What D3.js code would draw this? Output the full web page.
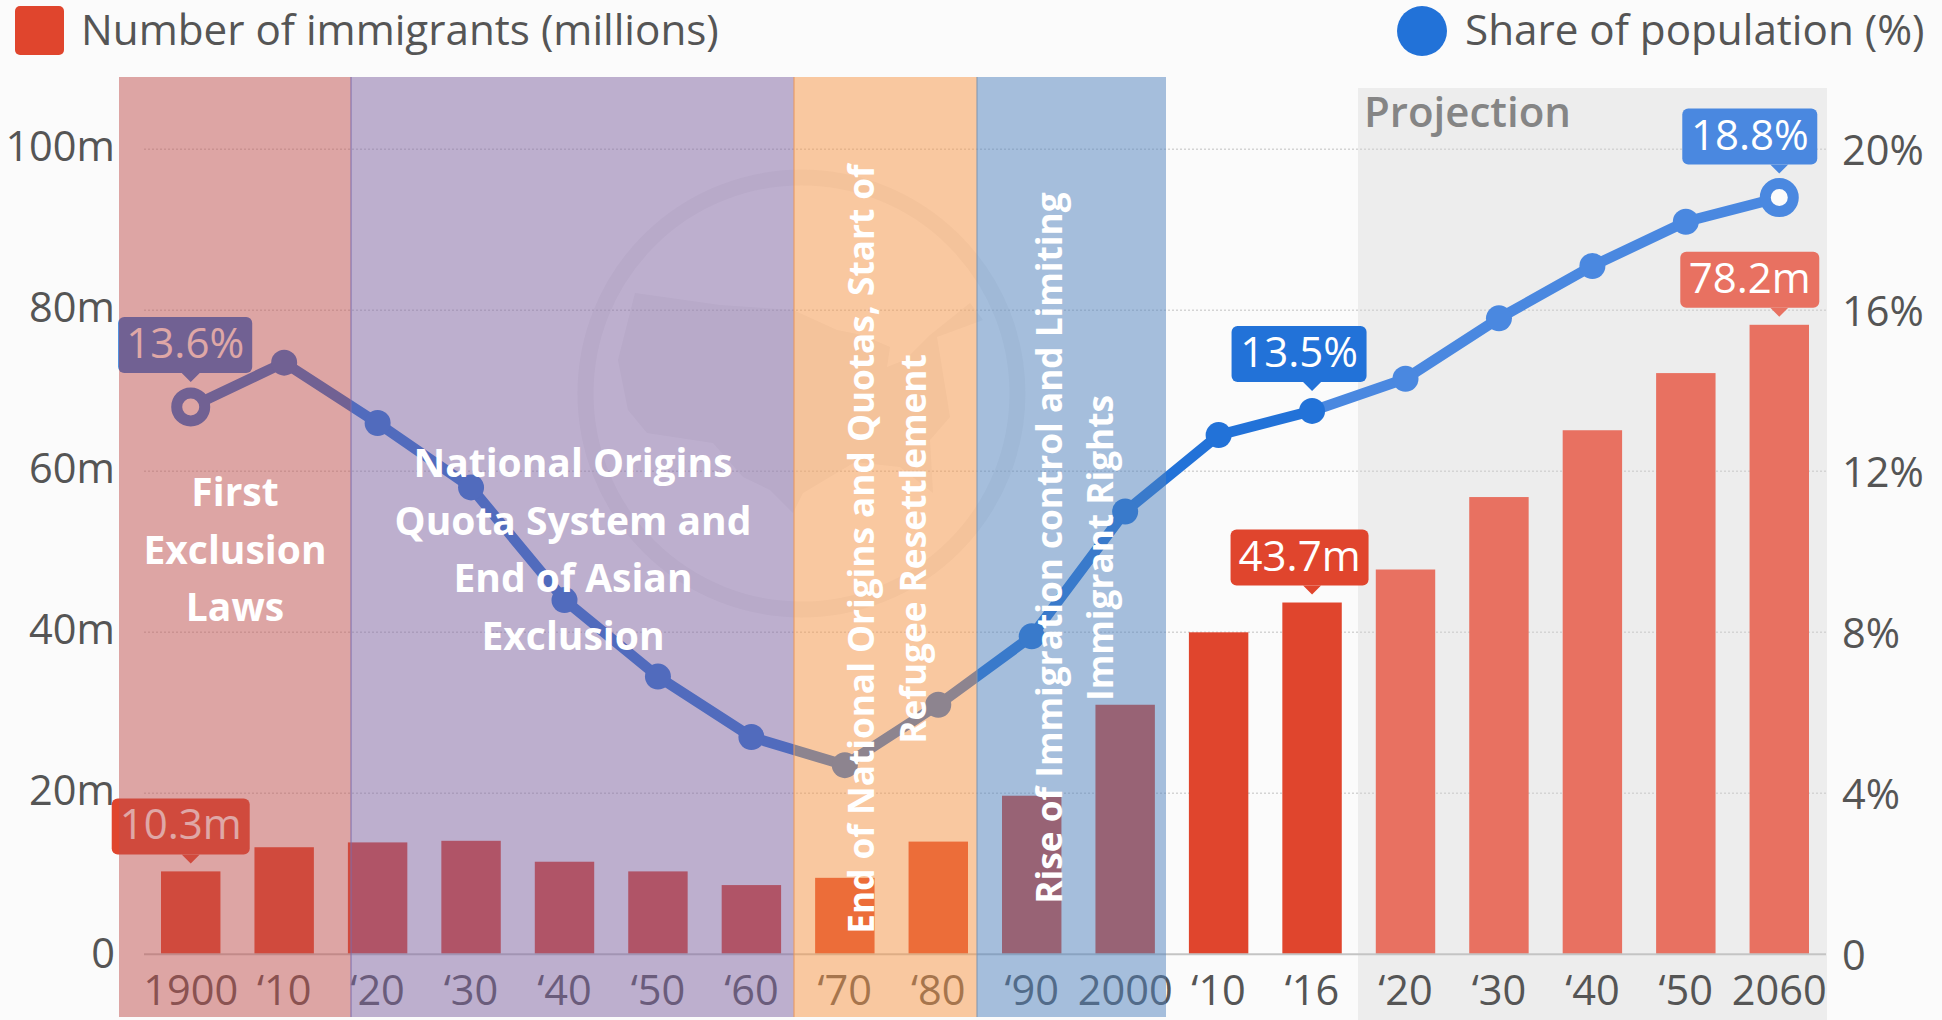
<!DOCTYPE html>
<html>
<head>
<meta charset="utf-8">
<script src="https://cdn.jsdelivr.net/npm/d3@7"></script>
<style>
  html, body { margin: 0; padding: 0; background: #fbfbfb; overflow: hidden; }
  text { font-family: "Open Sans", sans-serif; }
  .axis text { font-size: 41.5px; fill: #555; }
  .axis path, .axis line { display: none; }
</style>
</head>
<body>
<div id="chart"></div>
<script>
// Chart data
const years = ['1900', '‘10', '‘20', '‘30', '‘40', '‘50', '‘60', '‘70', '‘80', '‘90', '2000', '‘10 ', '‘16', '‘20 ', '‘30 ', '‘40 ', '‘50 ', '2060'];
const immigrants = [10.3, 13.3, 13.9, 14.1, 11.5, 10.3, 8.6, 9.5, 14.0, 19.7, 31.0, 40.0, 43.7, 47.8, 56.8, 65.1, 72.2, 78.2];
const sharePct = [13.6, 14.7, 13.2, 11.6, 8.8, 6.9, 5.4, 4.7, 6.2, 7.9, 11.0, 12.9, 13.5, 14.3, 15.8, 17.1, 18.2, 18.8];
const leftTicks = [0, 20, 40, 60, 80, 100];
const rightTicks = [0, 4, 8, 12, 16, 20];
// first projected category
const projectionStart = 13;

const eras = ['1900', '‘20', '‘70', '‘90'];

const width = 1942;
const height = 1020;
const margin = { top: 149.3, right: 116, bottom: 65.7, left: 144 };

const colors = {
    bar: '#e0452d',
    barProjected: '#e87161',
    line: '#2272d8',
    lineProjected: '#4a88e0',
    panels: ['#c0504d', '#8064a2', '#f79646', '#4f81bd'],
    panelEdge: ['#c0504d', '#7f6aa8', '#e8955a', '#7f93ad']
};

const svg = d3
    .select('#chart')
    .append('svg')
    .attr('width', width)
    .attr('height', height)
    .attr('viewBox', `0 0 ${width} ${height}`);

// Scales
const x = d3
    .scaleBand()
    .domain(years)
    .range([margin.left, width - margin.right])
    .paddingInner(0.364)
    .paddingOuter(0.182);
const yLeft = d3.scaleLinear().domain([0, 100]).range([height - margin.bottom, margin.top]);
const yRight = d3.scaleLinear().domain([0, 20]).range([height - margin.bottom, margin.top]);
const cx = (i) => x(years[i]) + x.bandwidth() / 2;

// Projection background
svg.append('rect')
    .attr('x', 1358)
    .attr('y', 88)
    .attr('width', 1827 - 1358)
    .attr('height', height - 88)
    .attr('fill', '#ededed');

svg.append('text')
    .attr('x', 1364)
    .attr('y', 127)
    .attr('fill', '#858585')
    .attr('font-size', 42)
    .attr('font-weight', 600)
    .text('Projection');

// Watermark behind the chart
const mark = svg.append('g').attr('opacity', 0.05).attr('fill', '#333');
mark.append('circle')
    .attr('cx', 801.5)
    .attr('cy', 393.5)
    .attr('r', 216)
    .attr('fill', 'none')
    .attr('stroke', '#333')
    .attr('stroke-width', 16);
mark.append('path')
    .attr('d', 'M635,293 L720,305 L793,310 L837,330 L862,335 L890,347 L887,367 L905,360 L930,335 L970,303 L983,320 L937,337 L950,417 L930,440 L933,493 L900,467 L855,462 L803,493 L793,513 L770,490 L743,477 L713,443 L647,433 L628,410 L618,360 Z');

// Grid lines
svg.append('g')
    .selectAll('line')
    .data(leftTicks.slice(1))
    .join('line')
    .attr('x1', margin.left)
    .attr('x2', width - margin.right)
    .attr('y1', (d) => yLeft(d))
    .attr('y2', (d) => yLeft(d))
    .attr('stroke', '#d4d4d4')
    .attr('stroke-width', 1.5)
    .attr('stroke-dasharray', '2 2');

// Bars
svg.append('g')
    .selectAll('rect')
    .data(immigrants)
    .join('rect')
    .attr('x', (d, i) => x(years[i]))
    .attr('y', (d) => yLeft(d))
    .attr('width', x.bandwidth())
    .attr('height', (d) => yLeft(0) - yLeft(d))
    .attr('fill', (d, i) => (i >= projectionStart ? colors.barProjected : colors.bar));

// Axis base line
svg.append('line')
    .attr('x1', margin.left)
    .attr('x2', width - margin.right)
    .attr('y1', yLeft(0))
    .attr('y2', yLeft(0))
    .attr('stroke', '#c4c4c4')
    .attr('stroke-width', 2);

// Left axis
const leftAxis = svg.append('g')
    .attr('class', 'axis')
    .attr('transform', `translate(115, 0)`)
    .call(d3.axisLeft(yLeft).tickValues(leftTicks).tickSize(0).tickPadding(0).tickFormat((d) => (d === 0 ? '0' : d + 'm')));
leftAxis.selectAll('text').attr('dy', (d) => (d === 0 ? 13 : 11));

// Right axis
const rightAxis = svg.append('g')
    .attr('class', 'axis')
    .attr('transform', `translate(1842, 0)`)
    .call(d3.axisRight(yRight).tickValues(rightTicks).tickSize(0).tickPadding(0).tickFormat((d) => (d === 0 ? '0' : d + '%')));
rightAxis.selectAll('text').attr('dy', 15.5);

// Bottom axis
const bottomAxis = svg.append('g')
    .attr('class', 'axis')
    .attr('transform', `translate(0, ${yLeft(0)})`)
    .call(d3.axisBottom(x).tickSize(0).tickPadding(0).tickFormat((d) => d.trim()));
bottomAxis.selectAll('text').attr('y', 51).attr('dy', 0);

// Share line, historic and projected parts
const line = d3
    .line()
    .x((d) => cx(d))
    .y((d) => yRight(sharePct[d]));
const indexes = d3.range(years.length);

svg.append('path')
    .datum(indexes.slice(projectionStart - 1))
    .attr('d', line)
    .attr('fill', 'none')
    .attr('stroke', colors.lineProjected)
    .attr('stroke-width', 10.5);
svg.append('path')
    .datum(indexes.slice(0, projectionStart))
    .attr('d', line)
    .attr('fill', 'none')
    .attr('stroke', colors.line)
    .attr('stroke-width', 10.5);

const lastIndex = years.length - 1;
svg.append('g')
    .selectAll('circle')
    .data(indexes)
    .join('circle')
    .attr('cx', (d) => cx(d))
    .attr('cy', (d) => yRight(sharePct[d]))
    .attr('r', (d) => (d === 0 || d === lastIndex ? 14 : 13))
    .attr('fill', (d) => {
        if (d === 0 || d === lastIndex) return '#fbfbfb';
        return d >= projectionStart ? colors.lineProjected : colors.line;
    })
    .attr('stroke', (d) => {
        if (d !== 0 && d !== lastIndex) return 'none';
        return d >= projectionStart ? colors.lineProjected : colors.line;
    })
    .attr('stroke-width', 11);

// Callouts on first, 2016 and last values
const barCallouts = [
    { index: 0, text: '10.3m', width: 138, dx: -10, gap: 8, fill: colors.bar },
    { index: 12, text: '43.7m', width: 138, dx: -12.5, gap: 8, fill: colors.bar },
    { index: 17, text: '78.2m', width: 139, dx: -29.5, gap: 8, fill: colors.barProjected }
];
const lineCallouts = [
    { index: 0, text: '13.6%', width: 134, dx: -5.5, gap: 25, fill: colors.line },
    { index: 12, text: '13.5%', width: 135, dx: -13, gap: 20, fill: colors.line },
    { index: 17, text: '18.8%', width: 135, dx: -29.5, gap: 24, fill: colors.lineProjected }
];

function drawCallout(d, tipY) {
    const tipX = cx(d.index);
    const boxLeft = tipX + d.dx - d.width / 2;
    const boxBottom = tipY - 9;
    const g = svg.append('g');
    g.append('rect')
        .attr('x', boxLeft)
        .attr('y', boxBottom - 56)
        .attr('width', d.width)
        .attr('height', 56)
        .attr('rx', 6)
        .attr('fill', d.fill);
    g.append('path')
        .attr('d', `M${tipX - 9},${boxBottom} L${tipX},${tipY} L${tipX + 9},${boxBottom} Z`)
        .attr('fill', d.fill);
    g.append('text')
        .attr('x', boxLeft + d.width / 2)
        .attr('y', boxBottom - 15)
        .attr('text-anchor', 'middle')
        .attr('font-size', 42)
        .attr('fill', '#fff')
        .text(d.text);
}
barCallouts.forEach((d) => drawCallout(d, yLeft(immigrants[d.index]) - d.gap));
lineCallouts.forEach((d) => drawCallout(d, yRight(sharePct[d.index]) - d.gap));

// Legend
svg.append('rect')
    .attr('x', 15)
    .attr('y', 6)
    .attr('width', 49)
    .attr('height', 49)
    .attr('rx', 5)
    .attr('fill', colors.bar);
svg.append('text')
    .attr('x', 81)
    .attr('y', 45)
    .attr('font-size', 42.2)
    .attr('fill', '#555')
    .text('Number of immigrants (millions)');
svg.append('circle')
    .attr('cx', 1422)
    .attr('cy', 31)
    .attr('r', 25)
    .attr('fill', colors.line);
svg.append('text')
    .attr('x', 1465)
    .attr('y', 45)
    .attr('font-size', 42.2)
    .attr('fill', '#555')
    .text('Share of population (%)');

// Era panels lie over the whole chart
const panelLeft = [119, 351, 794, 977];
const panelRight = [351, 794, 977, 1166];
svg.append('g')
    .selectAll('rect')
    .data(eras)
    .join('rect')
    .attr('x', (d, i) => panelLeft[i])
    .attr('y', 77)
    .attr('width', (d, i) => panelRight[i] - panelLeft[i])
    .attr('height', 940)
    .attr('fill', (d, i) => colors.panels[i])
    .attr('fill-opacity', 0.5);
svg.append('g')
    .selectAll('line')
    .data(panelLeft.slice(1))
    .join('line')
    .attr('x1', (d) => d)
    .attr('x2', (d) => d)
    .attr('y1', 77)
    .attr('y2', 1017)
    .attr('stroke', (d, i) => colors.panelEdge[i + 1])
    .attr('stroke-width', 1);

// Horizontal era text
function wrapped(lines, xPos, firstY, step) {
    svg.append('g')
        .selectAll('text')
        .data(lines)
        .join('text')
        .attr('x', xPos)
        .attr('y', (d, i) => firstY + i * step)
        .attr('text-anchor', 'middle')
        .attr('font-weight', 700)
        .attr('font-size', 39)
        .attr('fill', '#fff')
        .text((d) => d);
}
wrapped(['First', 'Exclusion', 'Laws'], 235, 506, 57.6);
wrapped(['National Origins', 'Quota System and', 'End of Asian', 'Exclusion'], 573, 477, 57.6);

// Rotated era text
function rotated(lines, positions, yPos) {
    svg.append('g')
        .selectAll('text')
        .data(lines)
        .join('text')
        .attr('transform', (d, i) => `translate(${positions[i]}, ${yPos}) rotate(-90)`)
        .attr('text-anchor', 'middle')
        .attr('font-weight', 700)
        .attr('font-size', 35.2)
        .attr('fill', '#fff')
        .text((d) => d);
}
rotated(['End of National Origins and Quotas, Start of', 'Refugee Resettlement'], [874, 926], 549);
rotated(['Rise of Immigration control and Limiting', 'Immigrant Rights'], [1062, 1113], 548);
</script>
</body>
</html>
